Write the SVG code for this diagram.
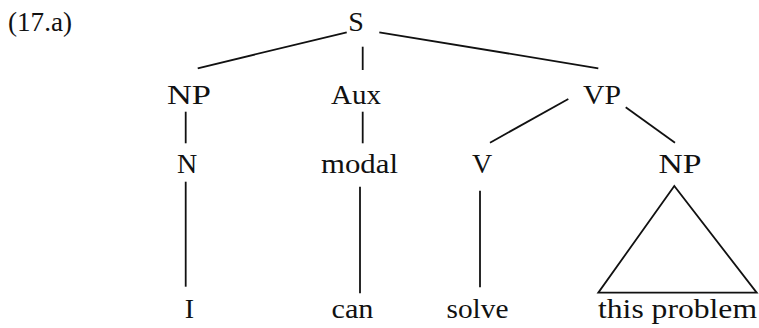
<svg xmlns="http://www.w3.org/2000/svg" width="759" height="328" viewBox="0 0 759 328">
<defs>
<style type="text/css">
.t{font-family:'Liberation Serif','Times New Roman',serif;font-size:28px;fill:#111;text-anchor:middle}
.e{stroke:#111;stroke-width:1.8;fill:none}
</style>
</defs>
<rect width="759" height="328" fill="#fff"/>
<g font-family="Liberation Serif, Times New Roman, serif" font-size="28" fill="#111" text-anchor="middle">
<text class="t" x="8" y="31" text-anchor="start" style="text-anchor:start" textLength="64" lengthAdjust="spacingAndGlyphs">(17.a)</text>
<g id="connectors">
<line class="e" x1="346.7" y1="32.3" x2="197.7" y2="68.3" stroke="#111" stroke-width="1.8"/>
<line class="e" x1="362.7" y1="46.7" x2="362.7" y2="70" stroke="#111" stroke-width="1.8"/>
<line class="e" x1="379.3" y1="32.3" x2="598.3" y2="68.3" stroke="#111" stroke-width="1.8"/>
<line class="e" x1="185.7" y1="111.7" x2="185.7" y2="143.3" stroke="#111" stroke-width="1.8"/>
<line class="e" x1="362.7" y1="111.7" x2="362.7" y2="143.3" stroke="#111" stroke-width="1.8"/>
<line class="e" x1="568.3" y1="99" x2="490" y2="142.7" stroke="#111" stroke-width="1.8"/>
<line class="e" x1="625.7" y1="107.3" x2="675" y2="142.7" stroke="#111" stroke-width="1.8"/>
<line class="e" x1="185.7" y1="181.7" x2="185.7" y2="286.7" stroke="#111" stroke-width="1.8"/>
<line class="e" x1="360" y1="186.7" x2="360" y2="293.3" stroke="#111" stroke-width="1.8"/>
<line class="e" x1="480" y1="190.7" x2="480" y2="287.3" stroke="#111" stroke-width="1.8"/>
<polygon class="e" points="674.3,186 598.3,292.7 756.7,292.7" stroke="#111" stroke-width="1.8" fill="none"/>
</g>
<g id="S"><text class="t" x="356" y="31">S</text></g>
<g id="NP1"><text class="t" x="189" y="104" textLength="44" lengthAdjust="spacingAndGlyphs">NP</text></g>
<g id="Aux"><text class="t" x="356" y="104" textLength="50" lengthAdjust="spacingAndGlyphs">Aux</text></g>
<g id="VP"><text class="t" x="602" y="104" textLength="38" lengthAdjust="spacingAndGlyphs">VP</text></g>
<g id="N"><text class="t" x="187" y="173">N</text></g>
<g id="modal"><text class="t" x="359.5" y="173" textLength="77" lengthAdjust="spacingAndGlyphs">modal</text></g>
<g id="V"><text class="t" x="482" y="173">V</text></g>
<g id="NP2"><text class="t" x="680" y="173" textLength="43" lengthAdjust="spacingAndGlyphs">NP</text></g>
<g id="I"><text class="t" x="189.5" y="318">I</text></g>
<g id="can"><text class="t" x="352.5" y="318" textLength="42" lengthAdjust="spacingAndGlyphs">can</text></g>
<g id="solve"><text class="t" x="477.5" y="318" textLength="62" lengthAdjust="spacingAndGlyphs">solve</text></g>
<g id="this-problem"><text class="t" x="677.5" y="318" textLength="159" lengthAdjust="spacingAndGlyphs">this problem</text></g>
</g>
</svg>
